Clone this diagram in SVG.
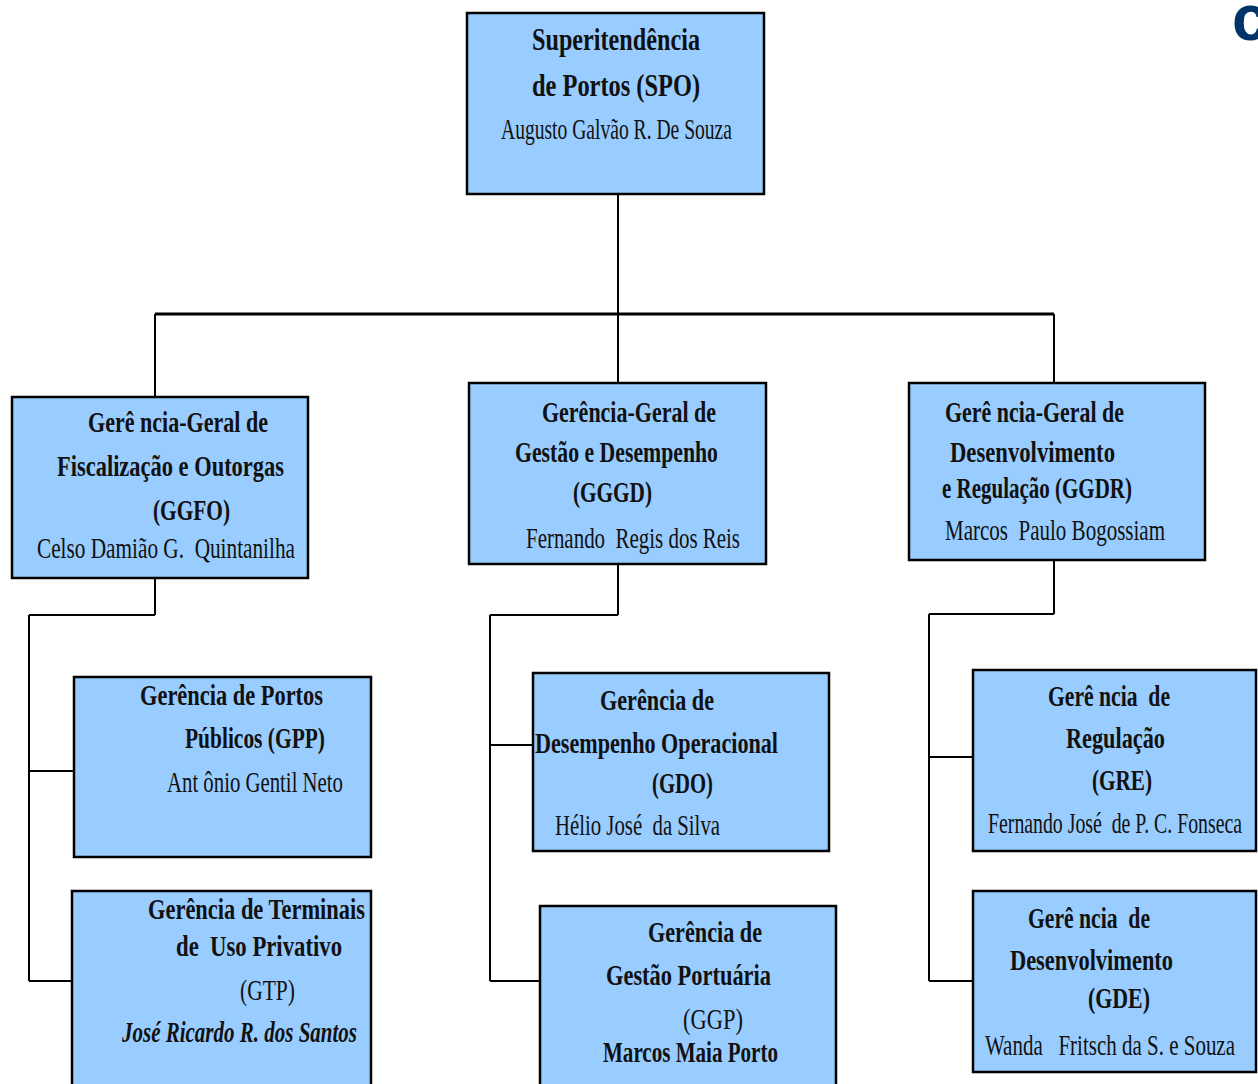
<svg xmlns="http://www.w3.org/2000/svg" width="1258" height="1084" viewBox="0 0 1258 1084">
<style>
.box{fill:#99CCFF;stroke:#000;stroke-width:2.5}
.t{font-family:"Liberation Serif","Times New Roman",serif;font-size:30px;fill:#111;white-space:pre}
.b{font-weight:bold}
.i{font-style:italic}
.big{font-size:32px}
.conn line{stroke:#000;stroke-width:2}
</style>
<rect width="1258" height="1084" fill="#fff"/>
<text x="1232" y="40" font-family="Liberation Sans, Arial, sans-serif" font-weight="bold" font-size="64" fill="#003366">c</text>
<g id="connectors" class="conn">
<line x1="618" y1="194" x2="618" y2="383"/>
<line x1="155" y1="314" x2="1054" y2="314" style="stroke-width:3"/>
<line x1="155" y1="314" x2="155" y2="397"/>
<line x1="1054" y1="314" x2="1054" y2="383"/>
<line x1="155" y1="578" x2="155" y2="615"/>
<line x1="29" y1="615" x2="155" y2="615"/>
<line x1="29" y1="615" x2="29" y2="981"/>
<line x1="29" y1="771" x2="74" y2="771"/>
<line x1="29" y1="981" x2="72" y2="981"/>
<line x1="618" y1="564" x2="618" y2="615"/>
<line x1="490" y1="615" x2="618" y2="615"/>
<line x1="490" y1="615" x2="490" y2="981"/>
<line x1="490" y1="745" x2="533" y2="745"/>
<line x1="490" y1="981" x2="540" y2="981"/>
<line x1="1054" y1="560" x2="1054" y2="614"/>
<line x1="929" y1="614" x2="1054" y2="614"/>
<line x1="929" y1="614" x2="929" y2="981"/>
<line x1="929" y1="757" x2="973" y2="757"/>
<line x1="929" y1="981" x2="973" y2="981"/>
</g>
<g id="SPO">
<rect class="box" x="467" y="13" width="297" height="181"/>
<text class="t b big" x="532" y="50" textLength="168" lengthAdjust="spacingAndGlyphs">Superitendência</text>
<text class="t b big" x="532" y="96" textLength="168" lengthAdjust="spacingAndGlyphs">de Portos (SPO)</text>
<text class="t" x="501" y="139" textLength="231" lengthAdjust="spacingAndGlyphs">Augusto Galvão R. De Souza</text>
</g>
<g id="GGFO">
<rect class="box" x="12" y="397" width="296" height="181"/>
<text class="t b" x="88" y="432" textLength="180" lengthAdjust="spacingAndGlyphs">Gerê ncia-Geral de</text>
<text class="t b" x="57" y="476" textLength="227" lengthAdjust="spacingAndGlyphs">Fiscalização e Outorgas</text>
<text class="t b" x="153" y="520" textLength="77" lengthAdjust="spacingAndGlyphs">(GGFO)</text>
<text class="t" x="37" y="558" textLength="258" lengthAdjust="spacingAndGlyphs">Celso Damião G.  Quintanilha</text>
</g>
<g id="GGGD">
<rect class="box" x="469" y="383" width="297" height="181"/>
<text class="t b" x="542" y="422" textLength="174" lengthAdjust="spacingAndGlyphs">Gerência-Geral de</text>
<text class="t b" x="515" y="462" textLength="203" lengthAdjust="spacingAndGlyphs">Gestão e Desempenho</text>
<text class="t b" x="573" y="502" textLength="79" lengthAdjust="spacingAndGlyphs">(GGGD)</text>
<text class="t" x="526" y="548" textLength="214" lengthAdjust="spacingAndGlyphs">Fernando  Regis dos Reis</text>
</g>
<g id="GGDR">
<rect class="box" x="909" y="383" width="296" height="177"/>
<text class="t b" x="945" y="422" textLength="179" lengthAdjust="spacingAndGlyphs">Gerê ncia-Geral de</text>
<text class="t b" x="950" y="462" textLength="165" lengthAdjust="spacingAndGlyphs">Desenvolvimento</text>
<text class="t b" x="942" y="498" textLength="190" lengthAdjust="spacingAndGlyphs">e Regulação (GGDR)</text>
<text class="t" x="945" y="540" textLength="220" lengthAdjust="spacingAndGlyphs">Marcos  Paulo Bogossiam</text>
</g>
<g id="GPP">
<rect class="box" x="74" y="677" width="297" height="180"/>
<text class="t b" x="140" y="705" textLength="183" lengthAdjust="spacingAndGlyphs">Gerência de Portos</text>
<text class="t b" x="185" y="748" textLength="140" lengthAdjust="spacingAndGlyphs">Públicos (GPP)</text>
<text class="t" x="167" y="792" textLength="176" lengthAdjust="spacingAndGlyphs">Ant ônio Gentil Neto</text>
</g>
<g id="GTP">
<rect class="box" x="72" y="891" width="299" height="205"/>
<text class="t b" x="148" y="919" textLength="217" lengthAdjust="spacingAndGlyphs">Gerência de Terminais</text>
<text class="t b" x="176" y="956" textLength="166" lengthAdjust="spacingAndGlyphs">de  Uso Privativo</text>
<text class="t" x="240" y="1000" textLength="55" lengthAdjust="spacingAndGlyphs">(GTP)</text>
<text class="t i b" x="122" y="1042" textLength="235" lengthAdjust="spacingAndGlyphs">José Ricardo R. dos Santos</text>
</g>
<g id="GDO">
<rect class="box" x="533" y="673" width="296" height="178"/>
<text class="t b" x="600" y="710" textLength="114" lengthAdjust="spacingAndGlyphs">Gerência de</text>
<text class="t b" x="535" y="753" textLength="243" lengthAdjust="spacingAndGlyphs">Desempenho Operacional</text>
<text class="t b" x="652" y="793" textLength="61" lengthAdjust="spacingAndGlyphs">(GDO)</text>
<text class="t" x="555" y="835" textLength="165" lengthAdjust="spacingAndGlyphs">Hélio José  da Silva</text>
</g>
<g id="GGP">
<rect class="box" x="540" y="906" width="296" height="190"/>
<text class="t b" x="648" y="942" textLength="114" lengthAdjust="spacingAndGlyphs">Gerência de</text>
<text class="t b" x="606" y="985" textLength="165" lengthAdjust="spacingAndGlyphs">Gestão Portuária</text>
<text class="t" x="683" y="1029" textLength="60" lengthAdjust="spacingAndGlyphs">(GGP)</text>
<text class="t b" x="603" y="1062" textLength="175" lengthAdjust="spacingAndGlyphs">Marcos Maia Porto</text>
</g>
<g id="GRE">
<rect class="box" x="973" y="670" width="283" height="181"/>
<text class="t b" x="1048" y="706" textLength="122" lengthAdjust="spacingAndGlyphs">Gerê ncia  de</text>
<text class="t b" x="1066" y="748" textLength="99" lengthAdjust="spacingAndGlyphs">Regulação</text>
<text class="t b" x="1092" y="790" textLength="60" lengthAdjust="spacingAndGlyphs">(GRE)</text>
<text class="t" x="988" y="833" textLength="254" lengthAdjust="spacingAndGlyphs">Fernando José  de P. C. Fonseca</text>
</g>
<g id="GDE">
<rect class="box" x="973" y="891" width="283" height="181"/>
<text class="t b" x="1028" y="928" textLength="122" lengthAdjust="spacingAndGlyphs">Gerê ncia  de</text>
<text class="t b" x="1010" y="970" textLength="163" lengthAdjust="spacingAndGlyphs">Desenvolvimento</text>
<text class="t b" x="1088" y="1008" textLength="62" lengthAdjust="spacingAndGlyphs">(GDE)</text>
<text class="t" x="985" y="1055" textLength="250" lengthAdjust="spacingAndGlyphs">Wanda   Fritsch da S. e Souza</text>
</g>
</svg>
